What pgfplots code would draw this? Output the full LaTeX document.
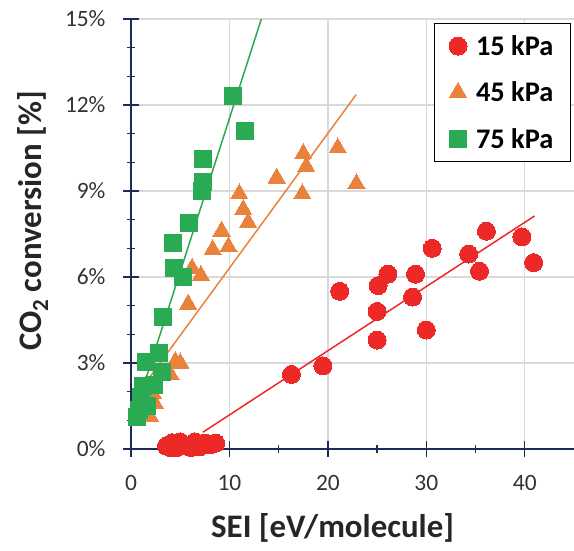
\documentclass[border=0pt]{standalone}
\usepackage{pgfplots}
\pgfplotsset{compat=1.18}
\usepackage{fontspec}
\setmainfont{Carlito}
\definecolor{cred}{RGB}{237,41,40}
\definecolor{corange}{RGB}{232,130,60}
\definecolor{cgreen}{RGB}{43,170,84}
\definecolor{axiscol}{RGB}{31,42,92}
\definecolor{gridcol}{RGB}{217,217,217}
\definecolor{tickcol}{RGB}{50,50,50}
\begin{document}
\begin{tikzpicture}
\begin{axis}[
  name=ax,
  scale only axis, width=443bp, height=430bp,
  xmin=0, xmax=45, ymin=0, ymax=15,
  axis lines=left,
  axis line style={-, draw=axiscol, line width=1.6bp},
  every outer x axis line/.append style={-},
  every outer y axis line/.append style={-},
  xtick={0,10,20,30,40}, minor x tick num=1,
  ytick={0,3,6,9,12,15}, minor y tick num=2,
  /pgf/number format/assume math mode=true,
  yticklabel={\pgfmathprintnumber{\tick}\%},
  tick align=center,
  major tick length=16bp, minor tick length=8bp,
  tick style={draw=axiscol, line width=1.4bp},
  grid=major,
  major grid style={draw=gridcol, line width=1.4bp},
  ticklabel style={font=\fontsize{23.5}{27}\selectfont, text=tickcol},
  yticklabel style={xshift=-14bp},
  xticklabel style={yshift=-15bp},
  xlabel={\textbf{SEI [eV/molecule]}},
  ylabel={\textbf{CO\textsubscript{2} conversion [\%]}},
  label style={font=\fontsize{33}{38}\selectfont, text=black!85},
  xlabel style={at={(ticklabel cs:0.455)}, anchor=north, yshift=-16bp},
  ylabel style={at={(ticklabel cs:0.53)}, anchor=south, yshift=10bp},
  clip=false,
  legend style={at={(rel axis cs:0.993,0.991)}, anchor=north east,
    draw=black, line width=1bp, fill=white,
    font=\fontsize{28.5}{30}\selectfont\bfseries,
    row sep=21bp, inner xsep=15bp, inner ysep=10bp,
    /tikz/every odd column/.append style={column sep=7bp}},
  legend image code/.code={\draw[mark repeat=2,mark phase=2,#1] plot coordinates {(0bp,0bp) (9bp,0bp) (18bp,0bp)};},
  legend cell align=left,
]
\addplot[only marks, mark=*, mark size=9bp, mark options={fill=cred, draw=cred, line width=0pt}]
coordinates {
(3.6,0.10) (4.0,0.05) (4.2,0.22) (4.6,0.05) (5.0,0.25) (5.6,0.10)
(6.1,0.05) (6.5,0.25) (6.8,0.18) (7.0,0.08) (7.5,0.20) (8.0,0.15) (8.6,0.20)
(16.3,2.6) (19.5,2.9) (21.2,5.5) (25.1,5.7) (25.0,4.8) (25.0,3.8)
(26.1,6.1) (28.6,5.3) (28.9,6.1) (30.0,4.15) (30.6,7.0) (34.3,6.8)
(35.4,6.2) (36.1,7.6) (39.7,7.4) (40.9,6.5)
};
\addlegendentry{15 kPa}
\addplot[only marks, mark=triangle*, mark size=10bp, mark options={fill=corange, draw=corange, line width=0pt}]
coordinates {
(1.9,1.15) (2.4,1.6) (2.2,1.95) (4.0,2.6) (4.5,3.05) (5.0,3.0)
(5.8,5.05) (6.2,6.3) (7.1,6.05) (8.3,6.95) (9.2,7.6) (9.9,7.05)
(11.0,8.9) (11.4,8.35) (11.9,7.9) (14.8,9.45) (17.5,10.3) (17.8,9.85)
(17.4,8.9) (21.0,10.5) (22.9,9.25)
};
\addlegendentry{45 kPa}
\addplot[only marks, mark=square*, mark size=8.5bp, mark options={fill=cgreen, draw=cgreen, line width=0pt}]
coordinates {
(0.6,1.1) (0.8,1.35) (1.0,1.8) (1.6,1.5) (1.2,2.2) (2.3,2.25)
(1.5,3.05) (2.8,3.35) (3.1,2.7) (3.3,4.6) (4.4,6.3) (5.3,6.0)
(4.3,7.2) (5.9,7.9) (7.2,9.0) (7.3,9.3) (7.3,10.1) (10.4,12.3) (11.6,11.1)
};
\addlegendentry{75 kPa}
\addplot[forget plot, draw=cred, line width=1.5bp] coordinates {(7.3,0.585) (41.0,8.13)};
\addplot[forget plot, draw=corange, line width=1.5bp] coordinates {(1.08,2.12) (22.87,12.36)};
\addplot[forget plot, draw=cgreen, line width=1.5bp] coordinates {(0.8,1.69) (13.24,15.0)};
\end{axis}
\pgfresetboundingbox
\path ([xshift=-131bp,yshift=-102bp]ax.south west) rectangle ([yshift=19bp]ax.north east);
\end{tikzpicture}
\end{document}
